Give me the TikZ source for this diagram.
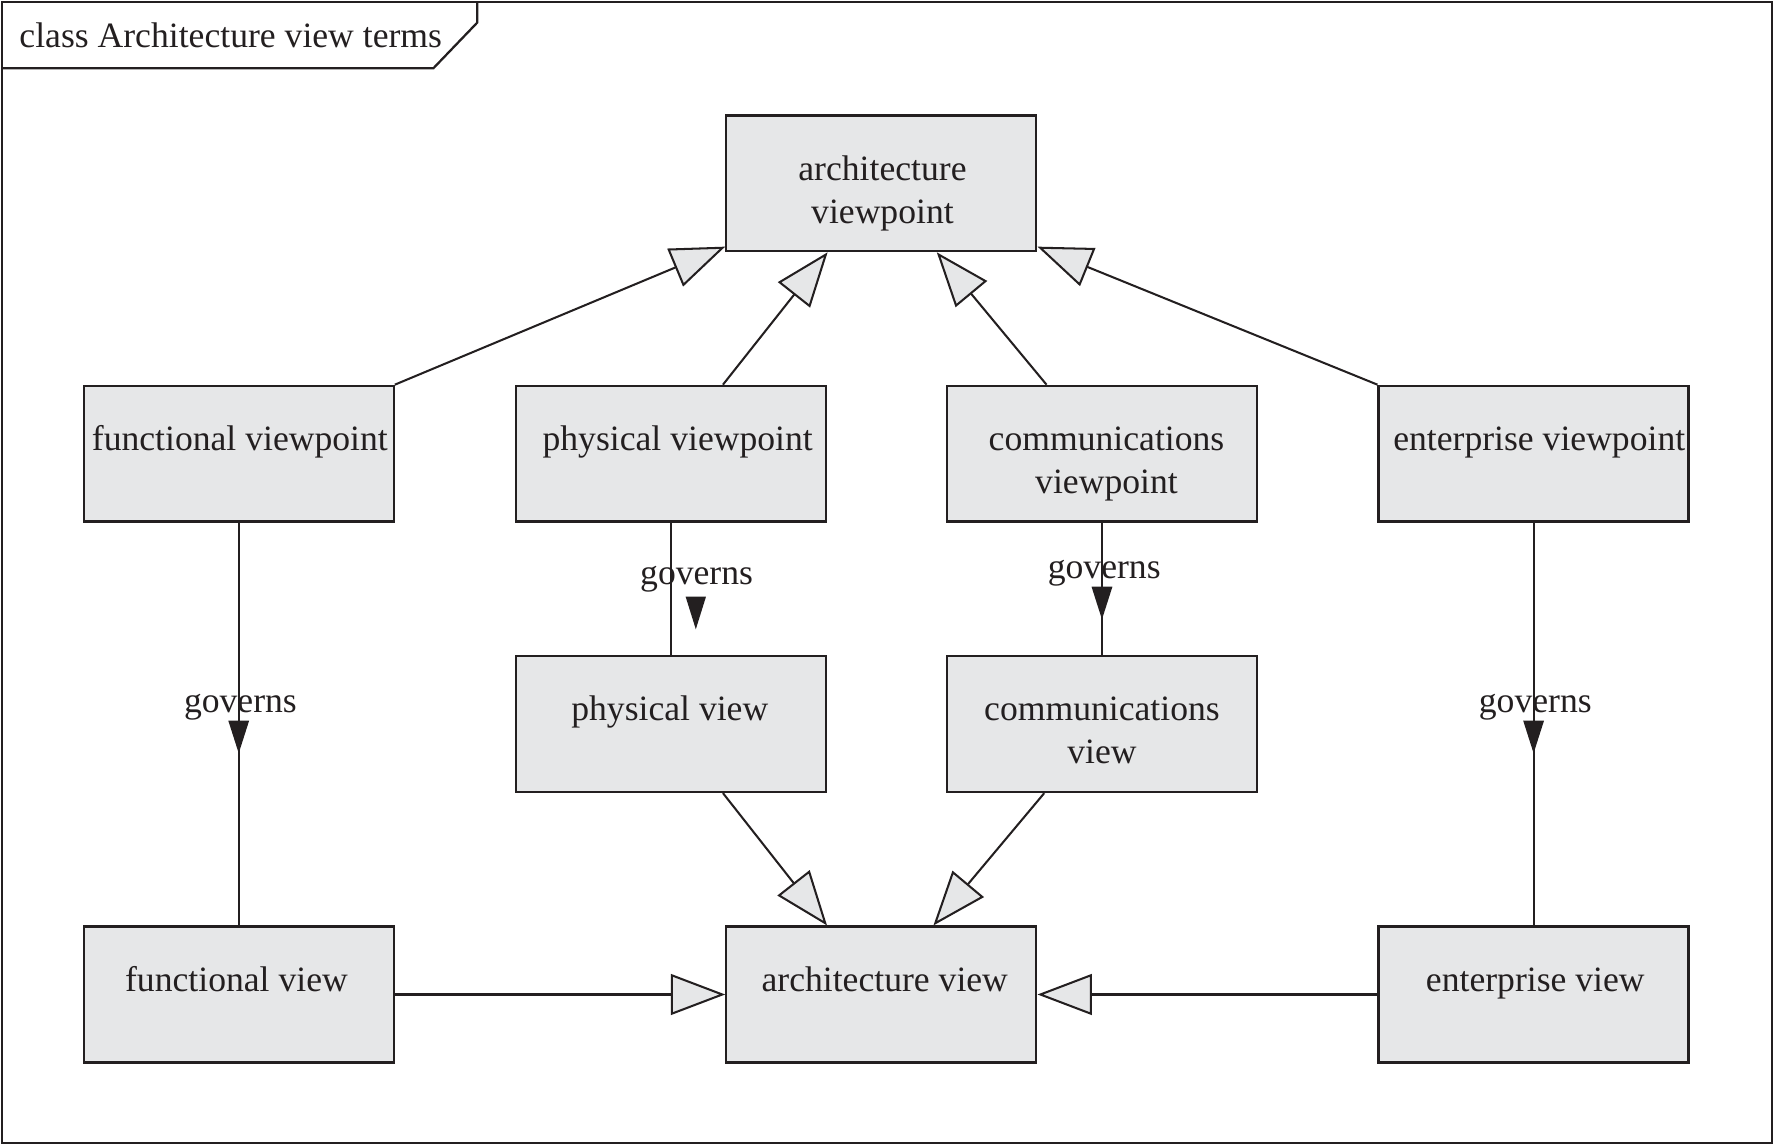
\documentclass[tikz,border=0pt]{standalone}
\usepackage{fontspec}
\setmainfont{Liberation Serif}
\usetikzlibrary{arrows.meta,decorations.markings}
\definecolor{boxgray}{HTML}{E6E7E8}
\definecolor{linec}{HTML}{231F20}
\tikzset{govtip/.tip={Triangle[length=29pt, width=18pt]}}
\begin{document}
\begin{tikzpicture}[x=1pt,y=-1pt,
  box/.style={draw=linec, fill=boxgray, line width=2pt, minimum width=274pt, minimum height=120pt, inner sep=0pt},
  boxtext/.style={anchor=north, inner sep=0pt, align=center, text=linec, font=\fontsize{31.5}{38}\selectfont},
  lbltext/.style={anchor=base, inner sep=0pt, text=linec, font=\fontsize{31.5}{38}\selectfont},
  conn/.style={draw=linec, line width=1.8pt},
  gen/.style={conn, -{Triangle[fill=boxgray, length=48pt, width=36pt]}},
  govern/.style={conn, postaction={decorate}, decoration={markings, mark=at position #1 with {\arrow[linec]{govtip}}}},
]
\useasboundingbox (0,0) rectangle (1568,1012);
% frame
\draw[draw=linec, line width=2pt] (1.5,1.5) rectangle (1566,1010);
\draw[draw=linec, line width=2pt] (1.5,60.4) -- (383,60.4) -- (421.8,20) -- (421.8,1.5);
\node[anchor=base west, inner sep=0pt, text=linec, font=\fontsize{31.5}{38}\selectfont] (title) at (17,42) {class Architecture view terms};

% boxes
\node[box] (avp) at (779,162) {};
\node[box] (fvp) at (211,401) {};
\node[box] (pvp) at (593,401) {};
\node[box] (cvp) at (974,401) {};
\node[box] (evp) at (1355.5,401) {};
\node[box] (pv) at (593,640) {};
\node[box] (cv) at (974,640) {};
\node[box] (fv) at (211,879) {};
\node[box] (av) at (779,879) {};
\node[box] (ev) at (1355.5,879) {};

% box texts
\node[boxtext] (avp-t) at ([xshift=1pt,yshift=-31.4pt]avp.north) {\strut architecture\\viewpoint};
\node[boxtext] (fvp-t) at ([xshift=1pt,yshift=-31.4pt]fvp.north) {\strut functional viewpoint};
\node[boxtext] (pvp-t) at ([xshift=6pt,yshift=-31.4pt]pvp.north) {\strut physical viewpoint};
\node[boxtext] (cvp-t) at ([xshift=4pt,yshift=-31.4pt]cvp.north) {\strut communications\\viewpoint};
\node[boxtext] (evp-t) at ([xshift=5pt,yshift=-31.4pt]evp.north) {\strut enterprise viewpoint};
\node[boxtext] (pv-t) at ([xshift=-1pt,yshift=-31.4pt]pv.north) {\strut physical view};
\node[boxtext] (cv-t) at ([yshift=-31.4pt]cv.north) {\strut communications\\view};
\node[boxtext] (fv-t) at ([xshift=-2pt,yshift=-31.4pt]fv.north) {\strut functional view};
\node[boxtext] (av-t) at ([xshift=3pt,yshift=-31.4pt]av.north) {\strut architecture view};
\node[boxtext] (ev-t) at ([xshift=1.5pt,yshift=-31.4pt]ev.north) {\strut enterprise view};

% generalizations to architecture viewpoint
\draw[gen] (fvp.north east) -- ([yshift=5pt]avp.south west);
\draw[gen] ([xshift=46pt]pvp.north) -- ([xshift=-47.5pt]avp.south);
\draw[gen] ([xshift=-49pt]cvp.north) -- ([xshift=49pt]avp.south);
\draw[gen] (evp.north west) -- ([yshift=5pt]avp.south east);

% generalizations to architecture view
\draw[gen] ([xshift=46pt]pv.south) -- ([xshift=-48pt]av.north);
\draw[gen] ([xshift=-51pt]cv.south) -- ([xshift=46pt]av.north);
\draw[gen] (fv.east) -- (av.west);
\draw[gen] (ev.west) -- (av.east);

% governs
\draw[govern=0.5726] (fvp.south) -- (fv.north);
\draw[govern=0.5726] (evp.south) -- (ev.north);
\draw[govern=0.731] (cvp.south) -- (cv.north);
\draw[conn] (pvp.south) -- (pv.north);
\fill[linec] (606,527.4) -- (624,527.4) -- (615,556.2) -- cycle;

\node[lbltext] (g-f) at (212.5,630) {governs};
\node[lbltext] (g-e) at (1357,630) {governs};
\node[lbltext] (g-p) at (615.7,516.5) {governs};
\node[lbltext] (g-c) at (976,511.5) {governs};
\end{tikzpicture}
\end{document}
